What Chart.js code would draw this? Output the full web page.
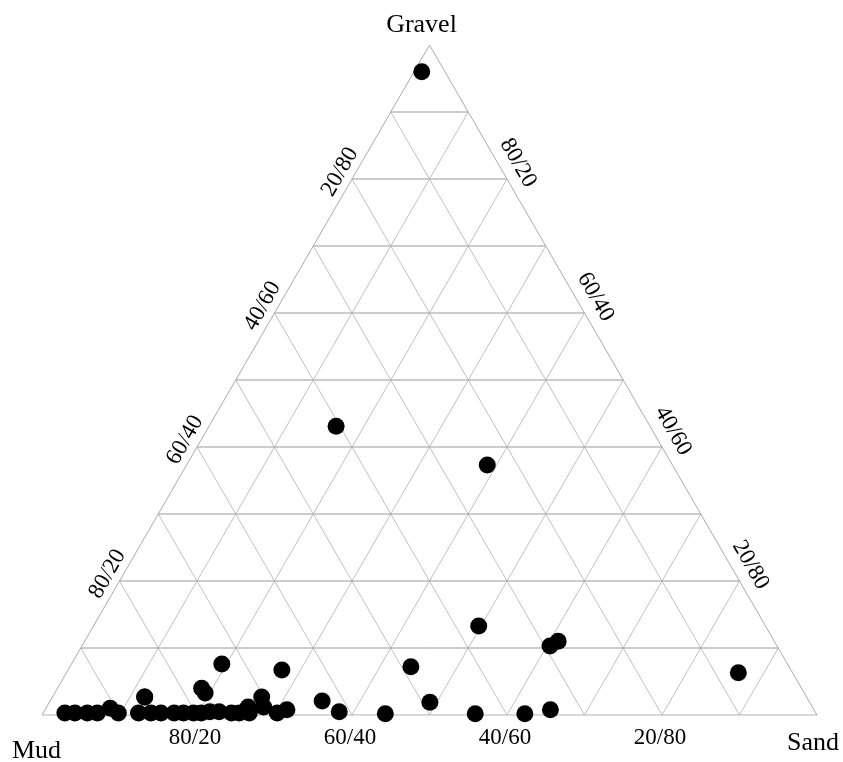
<!DOCTYPE html>
<html lang="en">
  <head>
    <meta charset="UTF-8" />
    <title>Gravel / Sand / Mud ternary</title>
    <script src="https://cdn.jsdelivr.net/npm/chart.js"></script>
    <style>
      body { margin: 0; background: #fff; }
    </style>
  </head>
  <body>
    <canvas id="ternary" width="843" height="762"></canvas>
    <script>
      // sample composition (percent)
      const gravel = [96, 43.1, 37.3, 13.3, 10.3, 11.0, 6.3, 7.2, 7.6, 6.7, 4.0, 3.3, 2.7, 2.7, 1.2,
        2.1, 0.5, 0.2, 1.9, 0.2, 0.2, 0.8, 0.8, 0.3,
        0.3, 0.3, 0.3, 0.3, 1.0, 0.3, 0.3, 2.7, 0.3, 0.3, 0.3, 0.3, 0.3, 0.3, 0.5, 0.5, 0.3, 0.3, 0.3, 1.2];
      const sand = [1, 16.4, 38.8, 49.7, 60.4, 61.1, 86.7, 44.0, 19.4, 27.6, 18.6, 19.4, 11.9, 27.0, 26.0,
        35.1, 38.1, 44.2, 49.1, 55.8, 62.2, 65.2, 31.2, 30.2,
        2.8, 4.1, 5.7, 7.0, 8.3, 9.7, 12.3, 11.9, 13.9, 15.2, 16.9, 18.1, 19.4, 20.4, 21.4, 22.6, 24.3, 25.3, 26.6, 28.0];
      const mud = gravel.map((g, i) => 100 - g - sand[i]);

      const gridSteps = [0.1, 0.2, 0.3, 0.4, 0.5, 0.6, 0.7, 0.8, 0.9];
      const labelSteps = [0.2, 0.4, 0.6, 0.8];
      const bottomLabels = ["80/20", "60/40", "40/60", "20/80"]; // mud/sand
      const leftLabels = ["80/20", "60/40", "40/60", "20/80"];   // mud/gravel, at gravel 0.2..0.8
      const rightLabels = ["20/80", "40/60", "60/40", "80/20"];  // gravel/sand, at gravel 0.2..0.8

      const H = Math.sqrt(3) / 2;
      // ternary (gravel, sand) fractions -> plot x/y
      function tern(g, s) {
        return { x: s + g / 2, y: g * H };
      }

      const points = gravel.map((g, i) => tern(g / 100, sand[i] / 100));

      const gridSets = [];
      gridSteps.forEach((k) => {
        // constant gravel
        gridSets.push({ data: [tern(k, 0), tern(k, 1 - k)], color: "#999999", width: 1 });
        // constant sand
        gridSets.push({ data: [tern(0, k), tern(1 - k, k)], color: "#b0b0b0", width: 0.8 });
        // constant mud
        gridSets.push({ data: [tern(0, 1 - k), tern(1 - k, 0)], color: "#b0b0b0", width: 0.8 });
      });
      gridSets.push({ data: [tern(0, 0), tern(1, 0)], color: "#a0a0a0", width: 0.9 });
      gridSets.push({ data: [tern(1, 0), tern(0, 1)], color: "#a0a0a0", width: 0.9 });
      gridSets.push({ data: [tern(0, 0), tern(0, 1)], color: "#cccccc", width: 1.4 });

      const datasets = [
        {
          label: "samples",
          data: points,
          backgroundColor: "#000",
          borderColor: "#000",
          pointRadius: 8.5,
          borderWidth: 0,
          clip: false,
          order: 0,
        },
      ];
      gridSets.forEach((gs) => {
        datasets.push({
          data: gs.data,
          showLine: true,
          borderColor: gs.color,
          borderWidth: gs.width,
          pointRadius: 0,
          clip: false,
          order: 1,
        });
      });

      const labelPlugin = {
        id: "ternaryLabels",
        afterDraw(chart) {
          const ctx = chart.ctx;
          const xs = chart.scales.x;
          const ys = chart.scales.y;
          const px = (p) => [xs.getPixelForValue(p.x), ys.getPixelForValue(p.y)];
          ctx.save();
          ctx.fillStyle = "#000";
          ctx.font = "23px 'Liberation Serif'";
          ctx.textAlign = "center";
          ctx.textBaseline = "middle";

          labelSteps.forEach((k, i) => {
            let [x, y] = px(tern(0, k));
            ctx.fillText(bottomLabels[i], x - 2, y + 23);

            [x, y] = px(tern(k, 0));
            ctx.save();
            ctx.translate(x - 12, y - 7);
            ctx.rotate(-Math.PI / 3);
            ctx.fillText(leftLabels[i], 0, 0);
            ctx.restore();

            [x, y] = px(tern(k, 1 - k));
            ctx.save();
            ctx.translate(x + 11, y - 16);
            ctx.rotate(Math.PI / 3);
            ctx.fillText(rightLabels[i], 0, 0);
            ctx.restore();
          });

          ctx.font = "26px 'Liberation Serif'";
          ctx.textBaseline = "alphabetic";
          let [x, y] = px(tern(1, 0));
          ctx.fillText("Gravel", x - 8, y - 13);
          ctx.textAlign = "left";
          [x, y] = px(tern(0, 0));
          ctx.fillText("Mud", x - 30, y + 43);
          [x, y] = px(tern(0, 1));
          ctx.fillText("Sand", x - 30, y + 35);
          ctx.restore();
        },
      };

      new Chart(document.getElementById("ternary").getContext("2d"), {
        type: "scatter",
        data: { datasets: datasets },
        options: {
          responsive: false,
          animation: false,
          layout: { padding: { left: 42, right: 26, top: 45, bottom: 47 } },
          plugins: { legend: { display: false }, tooltip: { enabled: false } },
          scales: {
            x: { type: "linear", min: 0, max: 1, display: false },
            y: { type: "linear", min: 0, max: H, display: false },
          },
        },
        plugins: [labelPlugin],
      });
    </script>
  </body>
</html>
